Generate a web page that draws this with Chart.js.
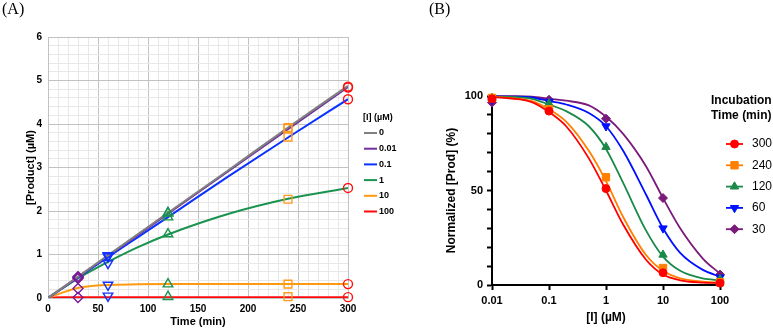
<!DOCTYPE html>
<html>
<head>
<meta charset="utf-8">
<script src="https://cdn.jsdelivr.net/npm/chart.js@4.4.1/dist/chart.umd.min.js"></script>
<style>
    body { margin: 0; background: #fff; }
    #wrap { position: relative; width: 773px; height: 330px; }
    .tag { position: absolute; top: 0; font-family: "Liberation Serif", "Times New Roman", serif; font-size: 16px; color: #000; }
    #chartA { position: absolute; left: 0; top: 0; }
    #chartB { position: absolute; left: 390px; top: 0; }
</style>
</head>
<body>
<div id="wrap">
    <canvas id="chartB" width="383" height="330"></canvas>
    <canvas id="chartA" width="420" height="330"></canvas>
    <div class="tag" style="left:2px;">(A)</div>
    <div class="tag" style="left:429px;">(B)</div>
</div>
<script>
// ===== Hình A: [Product] theo thời gian =====
const concLabels = ['0', '0.01', '0.1', '1', '10', '100'];
const concColors = ['#808080', '#7030a0', '#0a32ff', '#1a9350', '#ff9a10', '#ff0a0a'];

// Đường fit
const fitTimes = [0, 15, 30, 60, 90, 120, 180, 240, 300];
const fit0   = [0, 0.245, 0.49, 0.98, 1.47, 1.96, 2.93, 3.92, 4.88];
const fit001 = [0, 0.24, 0.48, 0.97, 1.45, 1.94, 2.91, 3.88, 4.85];
const fit01  = [0, 0.235, 0.47, 0.94, 1.40, 1.86, 2.79, 3.69, 4.57];
const fit1   = [0, 0.23, 0.45, 0.83, 1.17, 1.46, 1.93, 2.28, 2.53];
const fit10  = [0, 0.13, 0.23, 0.30, 0.315, 0.32, 0.32, 0.32, 0.32];
const fit100 = [0.01, 0.02, 0.02, 0.02, 0.02, 0.02, 0.02, 0.02, 0.02];

// Điểm đo tại các thời điểm
const markTimes = [30, 60, 120, 240, 300];
const prod0   = [0.49, 0.98, 1.96, 3.92, 4.86];
const prod001 = [0.48, 0.97, 1.95, 3.90, 4.84];
const prod01  = [0.47, 0.95, 1.86, 3.70, 4.57];
const prod1   = [0.45, 0.80, 1.47, 2.27, 2.53];
const prod10  = [0.22, 0.30, 0.32, 0.32, 0.32];
const prod100 = [0.01, 0.05, 0.03, 0.03, 0.02];

// ===== Hình B: % sản phẩm theo [I] =====
const incTimes = ['300', '240', '120', '60', '30'];
const incColors = ['#ff0000', '#ff8000', '#1a8a48', '#0010ff', '#7a1a7a'];
const incStyles = ['circle', 'rect', 'triangle', 'triangle', 'rectRot'];
const incRotation = [0, 0, 0, 180, 0];
const xTicksB = [0.01, 0.1, 1, 10, 100];
const xTickLabelsB = ['0.01', '0.1', '1', '10', '100'];

const measConc = [0.01, 0.1, 1, 10, 100];
const norm300 = [98.5, 92, 51, 6.5, 1];
const norm240 = [99, 93, 57, 9, 1.5];
const norm120 = [99, 96, 73, 16, 3];
const norm60  = [98, 97, 84, 30, 4];
const norm30  = [96.5, 98, 88, 46, 5.5];

const curveConc = [0.01, 0.02, 0.05, 0.1, 0.2, 0.5, 1, 2, 5, 10, 20, 50, 100];
const curve300 = [99.5, 98.8, 96.8, 91.5, 84, 67, 50, 32, 13.5, 5.5, 2.5, 1.3, 1];
const curve240 = [99.6, 99, 97.3, 93, 86.5, 71, 55, 36, 16, 7.5, 3.5, 1.8, 1.3];
const curve120 = [99.8, 99.5, 98.5, 95.5, 92, 84, 72, 54, 29, 15, 7.5, 3.5, 2.5];
const curve60  = [99.9, 99.7, 99.2, 97.3, 95.5, 91, 84, 71, 48, 30, 17, 8, 4.5];
const curve30  = [100, 99.9, 99.6, 98.5, 97.5, 95, 89, 80, 63, 46, 30, 14, 6];

const SANS = '"Liberation Sans", Arial, sans-serif';
const toXY = (xs, ys) => xs.map((x, i) => ({ x: x, y: ys[i] }));

// Plugin vẽ chú thích bên phải
const sideLegend = {
    id: 'sideLegend',
    afterDraw(chart, args, o) {
        const ctx = chart.ctx;
        ctx.save();
        ctx.textBaseline = 'middle';
        ctx.textAlign = 'left';
        ctx.fillStyle = '#000';
        ctx.font = o.titleFont;
        o.title.forEach((t, i) => ctx.fillText(t, o.titleX, o.titleY + i * o.titleGap));
        o.items.forEach((it, i) => {
            const y = o.y + i * o.gap;
            ctx.strokeStyle = it.color;
            ctx.lineWidth = o.lineWidth;
            ctx.beginPath();
            ctx.moveTo(o.lineX, y);
            ctx.lineTo(o.lineX + o.lineLen, y);
            ctx.stroke();
            if (it.style) {
                ctx.fillStyle = it.color;
                ctx.lineWidth = 1;
                Chart.helpers.drawPoint(ctx, { pointStyle: it.style, radius: it.radius, rotation: it.rotation, borderWidth: 1 }, o.lineX + o.lineLen / 2, y);
            }
            ctx.fillStyle = '#000';
            ctx.font = o.font;
            ctx.fillText(it.label, o.textX, y);
        });
        ctx.restore();
    }
};

// ----- Chart A -----
const fitsA = [fit0, fit001, fit01, fit1, fit10, fit100];
const prodsA = [prod0, prod001, prod01, prod1, prod10, prod100];
const markColorsA = ['#7a1a9a', '#1030ff', '#1a9350', '#ff9a20', '#ff1010'];
const markStylesA = ['rectRot', 'triangle', 'triangle', 'rect', 'circle'];
const markRotA = [0, 180, 0, 0, 0];
const markRadiusA = [5, 5.5, 5.5, 5.5, 4.5];

const lineSetsA = concLabels.map((c, k) => ({
    label: c,
    data: toXY(fitTimes, fitsA[k]),
    showLine: true,
    borderColor: concColors[k],
    backgroundColor: concColors[k],
    borderWidth: 2,
    pointRadius: 0,
    cubicInterpolationMode: 'monotone',
    order: 2
}));
const markSetsA = markTimes.map((t, j) => ({
    label: 't' + t,
    data: prodsA.map(p => ({ x: t, y: p[j] })),
    showLine: false,
    pointStyle: markStylesA[j],
    rotation: markRotA[j],
    pointRadius: markRadiusA[j],
    borderColor: markColorsA[j],
    backgroundColor: 'rgba(0,0,0,0)',
    borderWidth: 1.4,
    clip: false,
    order: 1
}));

const isMajor = (v, step) => Math.abs(v / step - Math.round(v / step)) < 1e-6;

new Chart(document.getElementById('chartA'), {
    type: 'scatter',
    data: { datasets: [...markSetsA, ...lineSetsA] },
    options: {
        responsive: false,
        animation: false,
        layout: { padding: { left: 0, right: 72, top: 37, bottom: 0 } },
        plugins: {
            legend: { display: false },
            tooltip: { enabled: false },
            sideLegend: {
                titleFont: 'bold 9px ' + SANS, font: 'bold 9px ' + SANS,
                title: ['[I] (µM)'], titleX: 363, titleY: 118, titleGap: 0,
                y: 133, gap: 15.7, lineX: 364, lineLen: 13, lineWidth: 2, textX: 379,
                items: concLabels.map((c, k) => ({ label: c, color: concColors[k] }))
            }
        },
        scales: {
            x: {
                type: 'linear', min: 0, max: 300,
                ticks: {
                    stepSize: 10, autoSkip: false, maxRotation: 0, padding: 5, color: '#000',
                    font: { family: SANS, size: 10, weight: 'bold' },
                    callback: v => isMajor(v, 50) ? v : ''
                },
                grid: {
                    drawTicks: false,
                    color: c => (c.tick && isMajor(c.tick.value, 50)) ? '#c2c2c2' : '#e8e8e8'
                },
                border: { color: '#c2c2c2' },
                title: { display: true, text: 'Time (min)', color: '#000', font: { family: SANS, size: 11, weight: 'bold' }, padding: { top: 0, bottom: 1.4 } },
                afterFit: s => { s.height = 32; }
            },
            y: {
                min: 0, max: 6,
                ticks: {
                    stepSize: 0.2, autoSkip: false, padding: 6, color: '#000',
                    font: { family: SANS, size: 10, weight: 'bold' },
                    callback: v => isMajor(v, 1) ? Math.round(v) : ''
                },
                grid: {
                    drawTicks: false,
                    color: c => (c.tick && isMajor(c.tick.value, 1)) ? '#c2c2c2' : '#e8e8e8'
                },
                border: { color: '#c2c2c2' },
                title: { display: true, text: '[Product] (µM)', color: '#000', font: { family: SANS, size: 11, weight: 'bold' }, padding: { top: 24.4, bottom: 0 } },
                afterFit: s => { s.width = 48; }
            }
        }
    },
    plugins: [sideLegend]
});

// ----- Chart B -----
const normsB = [norm300, norm240, norm120, norm60, norm30];
const curvesB = [curve300, curve240, curve120, curve60, curve30];
const markRadiusB = [4, 5.2, 4.8, 4.8, 4.5];

const markSetsB = incTimes.map((t, k) => ({
    label: t,
    data: toXY(measConc, normsB[k]),
    showLine: false,
    pointStyle: incStyles[k],
    rotation: incRotation[k],
    pointRadius: markRadiusB[k],
    backgroundColor: incColors[k],
    borderColor: incColors[k],
    borderWidth: 1,
    clip: false,
    order: 1
}));
const curveSetsB = incTimes.map((t, k) => ({
    label: t + ' fit',
    data: toXY(curveConc, curvesB[k]),
    showLine: true,
    borderColor: incColors[k],
    borderWidth: 1.8,
    pointRadius: 0,
    cubicInterpolationMode: 'monotone',
    clip: false,
    order: 2
}));

const axisFontB = { family: SANS, size: 11, weight: 'bold' };

new Chart(document.getElementById('chartB'), {
    type: 'scatter',
    data: { datasets: [...markSetsB, ...curveSetsB] },
    options: {
        responsive: false,
        animation: false,
        layout: { padding: { left: 0, right: 53, top: 96, bottom: 0 } },
        plugins: {
            legend: { display: false },
            tooltip: { enabled: false },
            sideLegend: {
                titleFont: 'bold 12px ' + SANS, font: '12px ' + SANS,
                title: ['Incubation', 'Time (min)'], titleX: 321, titleY: 101, titleGap: 15,
                y: 144, gap: 21.3, lineX: 336, lineLen: 17, lineWidth: 1.8, textX: 362,
                items: incTimes.map((t, k) => ({ label: t, color: incColors[k], style: incStyles[k], rotation: incRotation[k], radius: markRadiusB[k] }))
            }
        },
        scales: {
            x: {
                type: 'logarithmic', min: 0.01, max: 100,
                afterBuildTicks: s => { s.ticks = xTicksB.map(v => ({ value: v })); },
                ticks: {
                    autoSkip: false, maxRotation: 0, padding: 4, color: '#000', font: axisFontB,
                    callback: v => xTickLabelsB[xTicksB.indexOf(v)]
                },
                grid: { drawOnChartArea: false, drawTicks: true, tickLength: 5, tickWidth: 2, tickColor: '#000' },
                border: { color: '#000', width: 2 },
                title: { display: true, text: '[I] (µM)', color: '#000', font: { family: SANS, size: 12, weight: 'bold' }, padding: { top: 0, bottom: 4.8 } },
                afterFit: s => { s.height = 45; }
            },
            y: {
                min: 0, max: 100,
                ticks: {
                    stepSize: 10, autoSkip: false, padding: 4, color: '#000', font: axisFontB,
                    callback: v => v % 50 === 0 ? v : ''
                },
                grid: { drawOnChartArea: false, drawTicks: true, tickLength: 5, tickWidth: 2, tickColor: '#000' },
                border: { color: '#000', width: 2 },
                title: { display: true, text: 'Normalized [Prod] (%)', color: '#000', font: { family: SANS, size: 12, weight: 'bold' }, padding: { top: 54.8, bottom: 0 } },
                afterFit: s => { s.width = 102; }
            }
        }
    },
    plugins: [sideLegend]
});
</script>
</body>
</html>
